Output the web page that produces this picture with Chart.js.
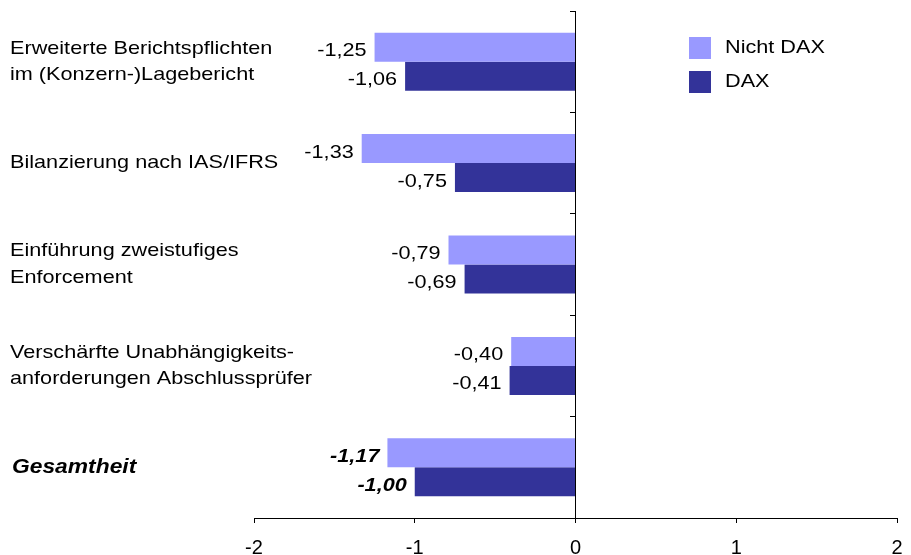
<!DOCTYPE html>
<html>
<head>
<meta charset="utf-8">
<script src="https://cdn.jsdelivr.net/npm/chart.js@4"></script>
<style>
  body { margin: 0; background: #fff; }
  #wrap { width: 911px; height: 555px; }
</style>
</head>
<body>
<div id="wrap"><canvas id="chart" width="911" height="555"></canvas></div>
<script>
// categories (lines of each label) and series values
const categories = [
  ["Erweiterte Berichtspflichten", "im (Konzern-)Lagebericht"],
  ["Bilanzierung nach IAS/IFRS"],
  ["Einführung zweistufiges", "Enforcement"],
  ["Verschärfte Unabhängigkeits-", "anforderungen Abschlussprüfer"],
  ["Gesamtheit"]
];
const nichtDax = [-1.25, -1.33, -0.79, -0.40, -1.17];
const dax = [-1.06, -0.75, -0.69, -0.41, -1.00];
const xTicks = [-2, -1, 0, 1, 2];

const FONT = '"Liberation Sans", Arial, sans-serif';
const STRETCH = 1.17; // source text is a bit wider than Arial
const fmt = v => v.toFixed(2).replace('.', ',');

// draw text slightly stretched horizontally, anchored at (x, y)
function wideText(ctx, text, x, y) {
  ctx.save();
  ctx.translate(x, y);
  ctx.scale(STRETCH, 1);
  ctx.fillText(text, 0, 0);
  ctx.restore();
}

// category labels at far left (they run into the plot area, so drawn by hand)
const categoryLabels = {
  id: 'categoryLabels',
  afterDraw(chart) {
    const { ctx, scales: { y } } = chart;
    ctx.save();
    ctx.fillStyle = '#000';
    ctx.textAlign = 'left';
    ctx.textBaseline = 'middle';
    categories.forEach((lines, i) => {
      const last = i === categories.length - 1;
      ctx.font = last ? 'italic bold 19.5px ' + FONT : '18.5px ' + FONT;
      const cy = y.getPixelForValue(i);
      const lh = 26.5;
      lines.forEach((t, k) => {
        wideText(ctx, t, last ? 12 : 10, cy + (k - (lines.length - 1) / 2) * lh);
      });
    });
    ctx.restore();
  }
};

// value labels left of the bar ends
const valueLabels = {
  id: 'valueLabels',
  afterDatasetsDraw(chart) {
    const { ctx } = chart;
    ctx.save();
    ctx.fillStyle = '#000';
    ctx.textAlign = 'right';
    ctx.textBaseline = 'middle';
    chart.data.datasets.forEach((ds, di) => {
      chart.getDatasetMeta(di).data.forEach((bar, i) => {
        const last = i === ds.data.length - 1;
        ctx.font = (last ? 'italic bold ' : '') + '18.5px ' + FONT;
        wideText(ctx, fmt(ds.data[i]), bar.x - 8, bar.y + 4);
      });
    });
    ctx.restore();
  }
};

// legend in the upper right
const boxLegend = {
  id: 'boxLegend',
  afterDraw(chart) {
    const { ctx } = chart;
    ctx.save();
    ctx.font = '18.5px ' + FONT;
    ctx.textAlign = 'left';
    ctx.textBaseline = 'middle';
    chart.data.datasets.forEach((ds, i) => {
      const top = 37 + i * 34;
      ctx.fillStyle = ds.backgroundColor;
      ctx.fillRect(689, top, 22, 22);
      ctx.fillStyle = '#000';
      wideText(ctx, ds.label, 725, top + 11);
    });
    ctx.restore();
  }
};

new Chart(document.getElementById('chart'), {
  type: 'bar',
  data: {
    labels: categories.map(l => l.join(' ')),
    datasets: [
      { label: 'Nicht DAX', data: nichtDax, backgroundColor: '#9999FF' },
      { label: 'DAX', data: dax, backgroundColor: '#333399' }
    ]
  },
  options: {
    indexAxis: 'y',
    responsive: false,
    animation: false,
    categoryPercentage: 0.572,
    barPercentage: 1,
    layout: { padding: { left: 254, right: 14, top: 11, bottom: 0 } },
    plugins: { legend: { display: false }, tooltip: { enabled: false } },
    scales: {
      x: {
        min: -2,
        max: 2,
        afterBuildTicks: s => { s.ticks = xTicks.map(v => ({ value: v })); },
        afterFit: s => { s.height = 37; s.paddingLeft = 0; s.paddingRight = 0; },
        border: { color: '#000', width: 1 },
        grid: { drawOnChartArea: false, drawTicks: true, tickLength: 5, color: '#000' },
        ticks: { color: '#000', font: { family: FONT, size: 20 }, padding: 13, maxRotation: 0 }
      },
      y: {
        position: { x: 0 },
        afterFit: s => { s.width = 0; },
        border: { color: '#000', width: 1 },
        grid: { drawOnChartArea: false, drawTicks: true, tickLength: 5, color: '#000', offset: true },
        ticks: { display: false }
      }
    }
  },
  plugins: [categoryLabels, valueLabels, boxLegend]
});
</script>
</body>
</html>
